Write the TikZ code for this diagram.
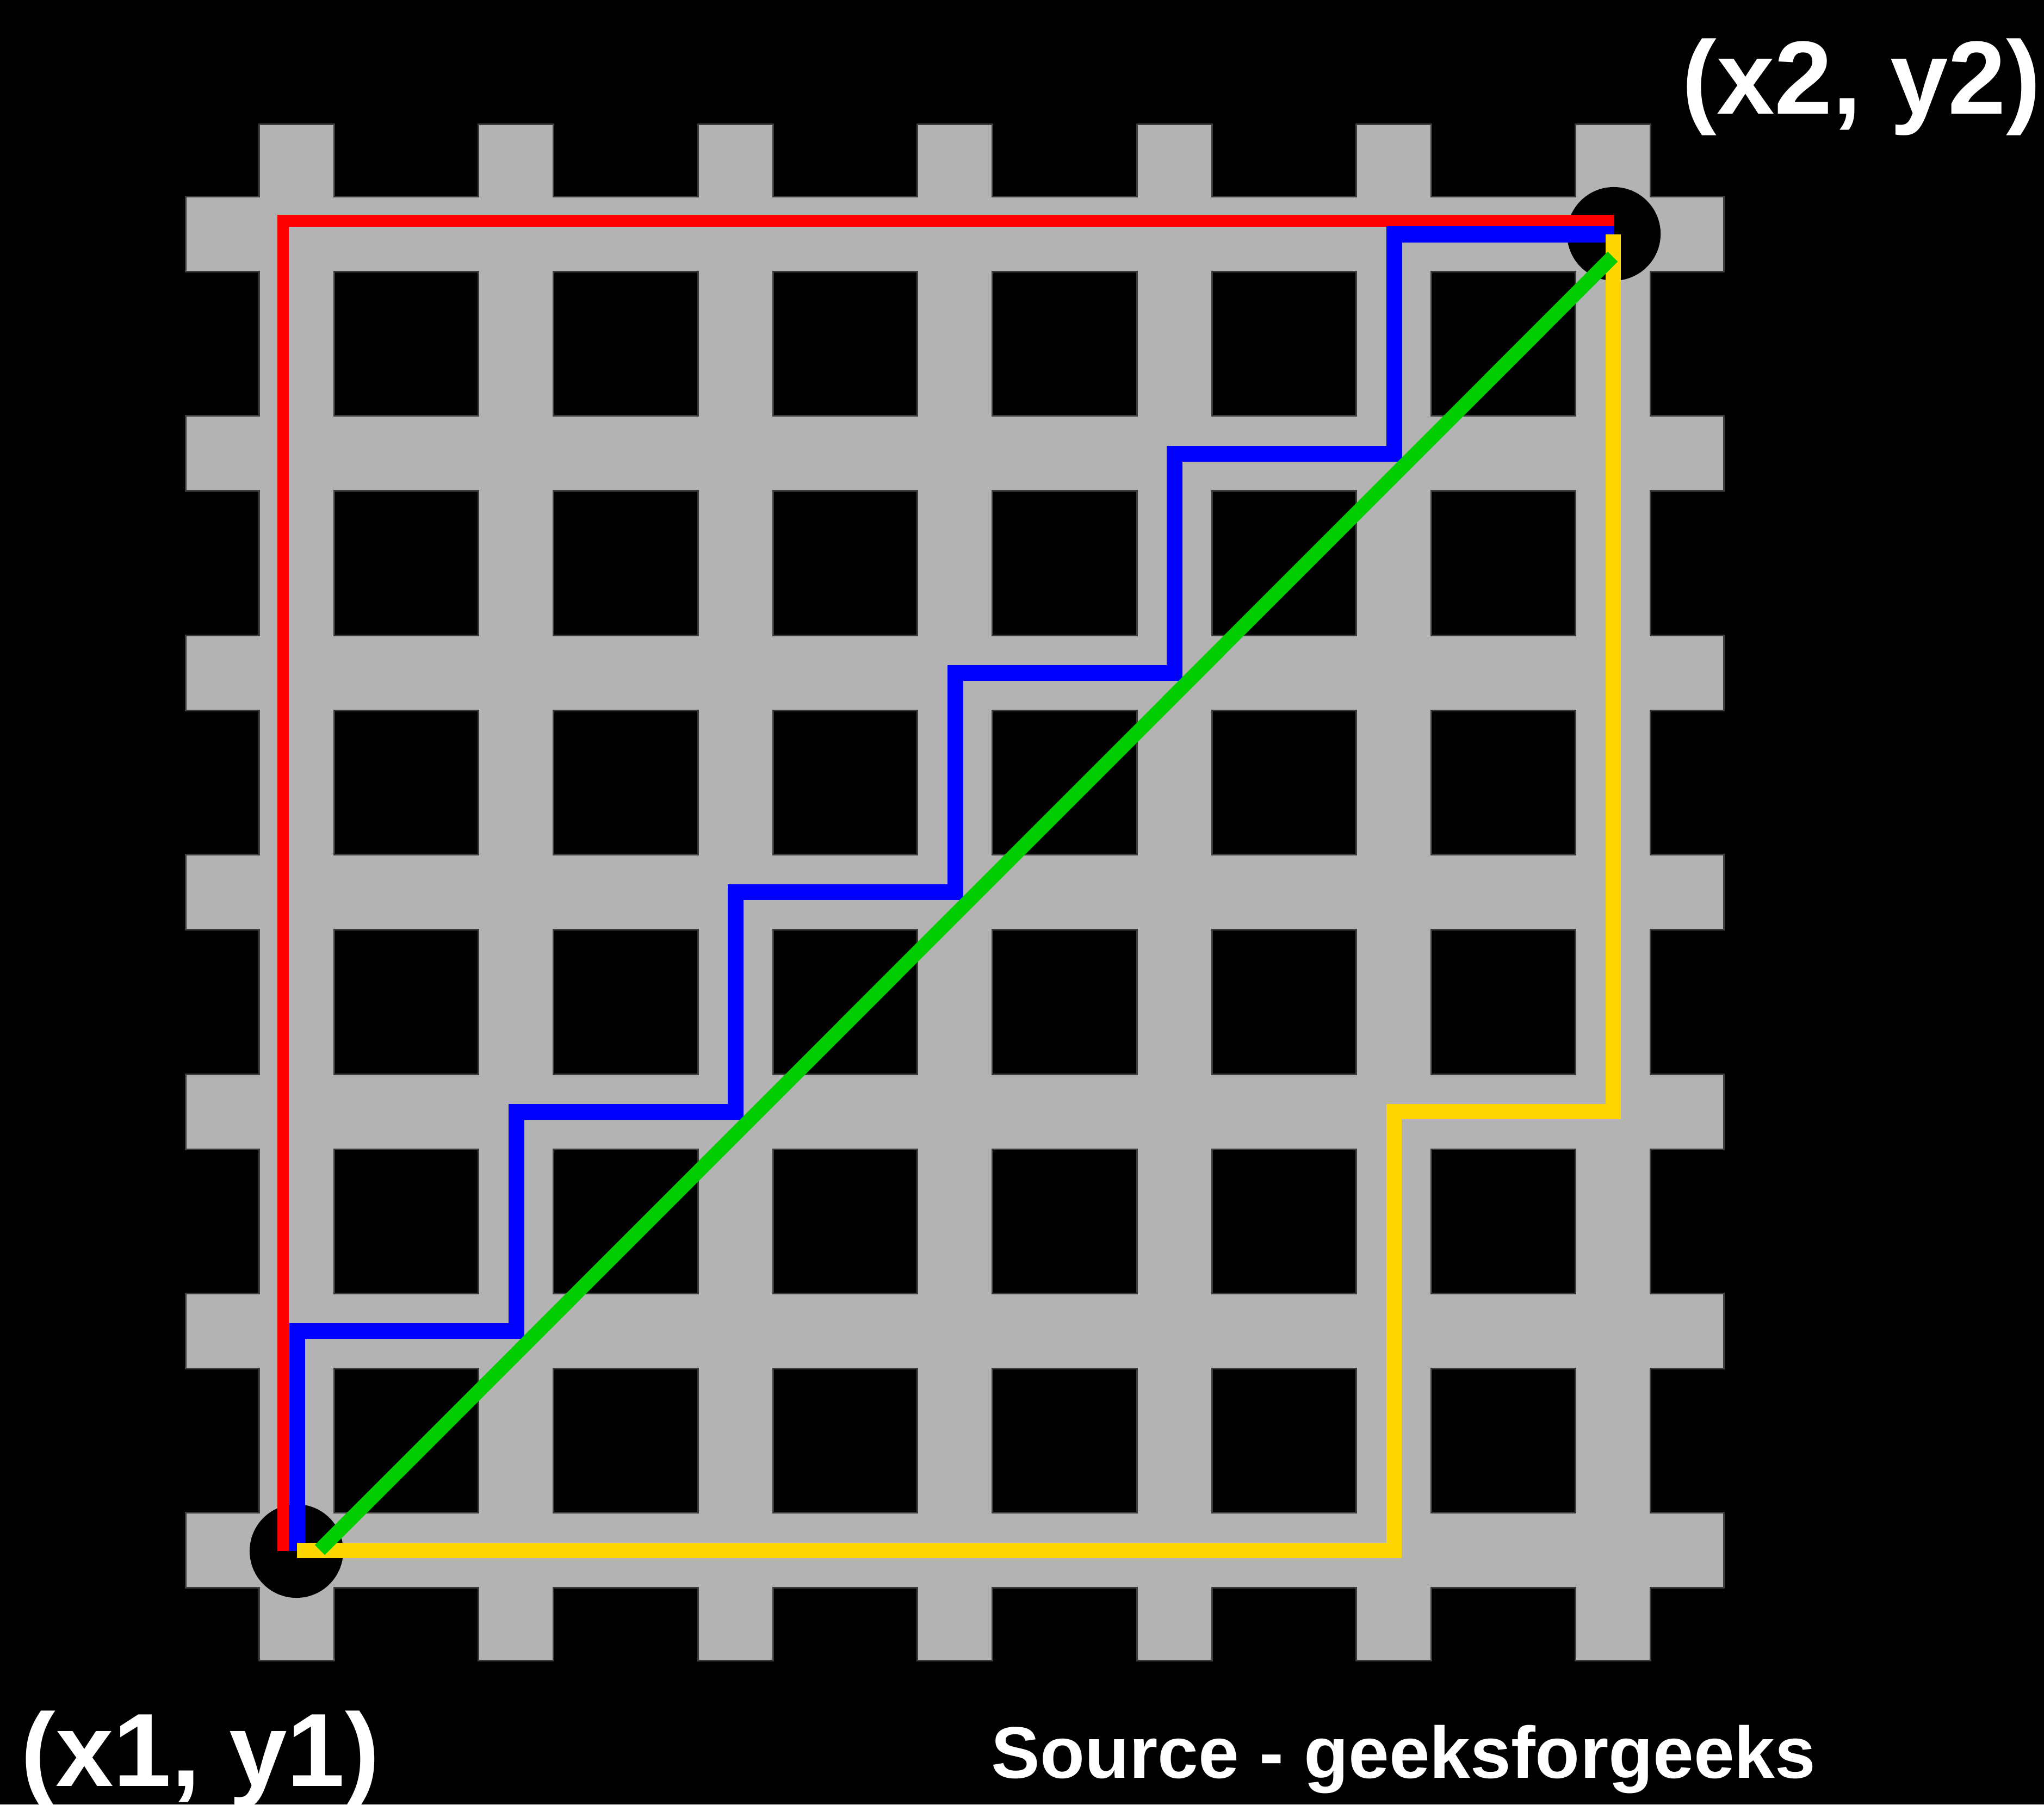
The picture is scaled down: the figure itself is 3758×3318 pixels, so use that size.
\documentclass[tikz,border=0pt]{standalone}
\usepackage{fontspec}
\setmainfont{Liberation Sans}
\definecolor{bargray}{HTML}{B3B3B3}
\definecolor{baredge}{HTML}{3C3C3C}
\definecolor{pathred}{HTML}{FF0000}
\definecolor{pathblue}{HTML}{0000FF}
\definecolor{pathyellow}{HTML}{FFD700}
\definecolor{pathgreen}{HTML}{00CC00}
\begin{document}
\begin{tikzpicture}[x=0.01cm,y=-0.01cm,
  baroutline/.style={draw=baredge,line width=0.06cm},
  barfill/.style={fill=bargray},
  endpoint/.style={circle,fill=black,minimum size=1.72cm,inner sep=0pt},
  bigtext/.style={text=white,inner sep=0pt,anchor=base west,font=\bfseries\fontsize{54.4pt}{60pt}\selectfont},
  smalltext/.style={text=white,inner sep=0pt,anchor=base west,font=\bfseries\fontsize{38.2pt}{44pt}\selectfont},
  redpath/.style={draw=pathred,line width=0.21cm},
  bluepath/.style={draw=pathblue,line width=0.29cm},
  yellowpath/.style={draw=pathyellow,line width=0.28cm},
  greenpath/.style={draw=pathgreen,line width=0.26cm}]
\fill[black] (0,0) rectangle (3758,3318);
\useasboundingbox (0,0) rectangle (3758,3318);
% bar outlines
\foreach \i in {0,...,6} {
  \path[baroutline] ({478+403.4*\i},230) rectangle ++(135,2822);
  \path[baroutline] (343,{363+403.4*\i}) rectangle ++(2825,135);
}
% bar fills
\foreach \i in {0,...,6} {
  \path[barfill] ({478+403.4*\i},230) rectangle ++(135,2822);
  \path[barfill] (343,{363+403.4*\i}) rectangle ++(2825,135);
}
% end points
\node[endpoint] (p1) at (545,2852) {};
\node[endpoint] (p2) at (2967,430) {};
% paths
\path[redpath] (520,2852) -- (520,406) -- (2967,406);
\path[bluepath] (546,2852) -- (546,2447) -- (949,2447) -- (949,2044) -- (1352,2044)
  -- (1352,1640) -- (1756,1640) -- (1756,1237) -- (2159,1237) -- (2159,834)
  -- (2563,834) -- (2563,431) -- (2967,431);
\path[yellowpath] (546,2851) -- (2563,2851) -- (2563,2044) -- (2966,2044) -- (2966,431);
\path[greenpath] (588,2850) -- (2965,472);
% labels
\node[bigtext] (lab2) at (3092,209) {(x2, y2)};
\node[bigtext] (lab1) at (38,3284) {(x1, y1)};
\node[smalltext] (src) at (1822,3269) {Source - geeksforgeeks};
\end{tikzpicture}
\end{document}
